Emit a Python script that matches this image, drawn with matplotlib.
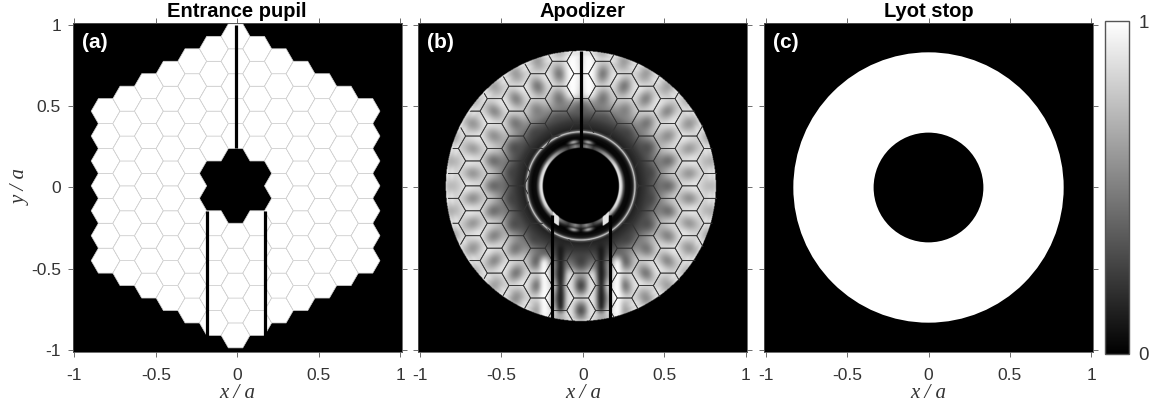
import matplotlib
matplotlib.use('Agg')
import matplotlib.pyplot as plt
import numpy as np
from matplotlib.patches import Circle, Polygon, PathPatch
from matplotlib.path import Path

W, H = 1151, 412
sans = ['Liberation Sans', 'DejaVu Sans']
serif = ['Liberation Serif', 'DejaVu Serif']
plt.rcParams['font.family'] = sans

titles = ['Entrance pupil', 'Apodizer', 'Lyot stop']
panel_tags = ['(a)', '(b)', '(c)']
tick_vals = [-1, -0.5, 0, 0.5, 1]
tick_labels = ['-1', '-0.5', '0', '0.5', '1']

# hexagon lattice
hex_size = 0.0885
hex_dy = 0.153
hex_dx = 0.133
shift_x, shift_y = -0.01, 0.01
n_rings = 6

# spiders
spider_x = [-0.188, -0.008, 0.168]
spider_a_y = [(-0.912, -0.143), (0.24, 1.0), (-0.912, -0.143)]
spider_b_y = [(-0.805, -0.17), (0.24, 0.84), (-0.805, -0.17)]

# apodizer: grey level in the middle of each hexagon, top to bottom, per column
# (column 0 is the middle one, the left half mirrors the right one)
col0 = [.75, .9, .85, .35, .15, 0, 0, 0, .2, .25, .25, .3, .4]
col1 = [.65, .45, .45, .3, .2, .1, .1, .2, .3, .4, .45, .6]
col2 = [.6, .45, .5, .25, .15, .15, .15, .25, .35, .4, .6]
col3 = [.6, .5, .45, .3, .25, .25, .3, .45, .45, .55]
col4 = [.62, .52, .55, .42, .4, .42, .5, .52, .62]
col5 = [.68, .58, .6, .58, .55, .58, .58, .68]
col6 = [.75, .62, .68, .72, .68, .62, .75]
hex_levels = [col0, col1, col2, col3, col4, col5, col6]

# apodizer: grey level between the hexagons against radius
rim_r = [.34, .4, .45, .5, .55, .6, .7, .78, .8, .815, .83]
rim_level = [.12, .22, .36, .54, .72, .82, .9, .82, .95, .75, 1.0]

# apodizer: ring round the central hole
ring_r = [.232, .238, .25, .262, .275, .3, .318, .328, .333, .338, .35]
ring_level = [0, .95, .85, .35, .05, .03, .12, .45, .95, .35, .15]
ring_angle = [0, 30, 55, 72, 82, 90]
ring_gain = [1, .95, .6, .25, .6, .3]

# apodizer: bright and dark vertical bands near the spiders (x, y0, y1, width, level)
band_x = [.05, .07, .125, .225]
band_y0 = [.52, -.83, -.80, -.83]
band_y1 = [.83, -.50, -.34, -.42]
band_w = [.04, .024, .024, .028]
band_level = [1.0, .9, .08, 1.0]

# Lyot stop
lyot_outer = 0.83
lyot_inner = 0.337

grid_x = np.linspace(-1.01, 1.01, 700)
X, Y = np.meshgrid(grid_x - shift_x, grid_x - shift_y)
R = np.hypot(X, Y)
AX = np.abs(X)

# nearest hexagon for every pixel, blobs stretched along the radius
best = np.full(X.shape, 9.0)
shaped = np.zeros(X.shape)
centre_lvl = np.zeros(X.shape)
for c, lv in enumerate(hex_levels):
    top = (len(lv) - 1) / 2 * hex_dy
    for k, v in enumerate(lv):
        cx, cy = c * hex_dx, top - k * hex_dy
        dx, dy = AX - cx, Y - cy
        d = np.hypot(dx, dy)
        rn = max(np.hypot(cx, cy), 1e-6)
        along = (dx * cx + dy * cy) / rn
        perp = (-dx * cy + dy * cx) / rn
        s = np.hypot(along / 1.35, perp)
        m = d < best
        best[m] = d[m]
        shaped[m] = s[m]
        centre_lvl[m] = v

edge = np.interp(R, rim_r, rim_level)
low = np.minimum(centre_lvl, edge)
t = np.clip(shaped / 0.07, 0, 1)
t = t * t * (3 - 2 * t)
apod = low + (edge - low) * t

for bx, y0, y1, bw, bl in zip(band_x, band_y0, band_y1, band_w, band_level):
    fade = np.clip((Y - y0) / 0.05, 0, 1) * np.clip((y1 - Y) / 0.05, 0, 1)
    w = np.exp(-((AX - bx) / bw) ** 2) * fade
    apod = apod * (1 - w) + bl * w

# soften with a small gaussian
freq = np.fft.fftfreq(700, d=grid_x[1] - grid_x[0])
FX, FY = np.meshgrid(freq, freq)
blur = np.exp(-2 * (np.pi * 0.010) ** 2 * (FX ** 2 + FY ** 2))
apod = np.real(np.fft.ifft2(np.fft.fft2(apod) * blur))
apod = np.clip(apod, 0, 1)

# ring: bright on the sides of the hole, dimmer on top and bottom
ring = np.interp(R, ring_r, ring_level)
ang = np.degrees(np.arctan2(np.abs(Y), AX))
gain = np.interp(ang, ring_angle, ring_gain)
inner = R < 0.29
ring[inner] = ring[inner] * gain[inner]
# soft lobes across the dark band, top and bottom
lobe = np.exp(-((R - 0.272) / 0.012) ** 2) * np.exp(-((AX - 0.045) / 0.03) ** 2)
ring = np.maximum(ring, 0.65 * lobe)
ring[(R > 0.232) & (R < 0.28) & (AX > 0.135) & (AX < 0.172) & (Y < 0)] = 0.9
apod = np.where(R < 0.35, ring, apod)
apod[R > 0.83] = 0
apod[R < 0.232] = 0


def hex_verts(cx, cy):
    a = np.deg2rad(np.arange(0, 360, 60))
    return np.c_[cx + hex_size * np.cos(a), cy + hex_size * np.sin(a)]


def lattice(skip_inner=True):
    pts = []
    for q in range(-n_rings, n_rings + 1):
        for r in range(-n_rings, n_rings + 1):
            if abs(q + r) > n_rings:
                continue
            if skip_inner and max(abs(q), abs(r), abs(q + r)) < 2:
                continue
            pts.append((q * hex_dx + shift_x, (r + q / 2) * hex_dy + shift_y))
    return pts


def annulus(r0, r1, cx, cy):
    a = Path.circle((cx, cy), r1)
    b = Path.circle((cx, cy), r0)
    return Path(np.r_[a.vertices, b.vertices[::-1]],
                np.r_[a.codes, b.codes])


fig = plt.figure(figsize=(W / 100, H / 100), dpi=100)
lefts = [72.7, 418.3, 764]
axes = []
for i, l in enumerate(lefts):
    ax = fig.add_axes([l / W, 1 - 352 / H, 329 / W, 329 / H])
    ax.set_facecolor('k')
    ax.set_xlim(-1.01, 1.01)
    ax.set_ylim(-1.01, 1.01)
    ax.set_xticks(tick_vals)
    ax.set_xticklabels(tick_labels)
    ax.set_yticks(tick_vals)
    ax.set_yticklabels(tick_labels if i == 0 else [])
    ax.tick_params(direction='out', length=3.5, width=0.6, color='#555555',
                   labelcolor='#333333', labelsize=12.5, top=True, right=True, pad=5)
    ax.tick_params(axis='x', pad=8)
    for s in ax.spines.values():
        s.set_color('#555555')
        s.set_linewidth(0.6)
    ax.set_title(titles[i], fontsize=14.5, fontweight='bold', pad=4.5, color='k')
    ax.set_xlabel('x / a', family=serif, style='italic', fontsize=15, color='#333333', labelpad=1)
    ax.text(-0.955, 0.89, panel_tags[i], color='w', fontweight='bold', fontsize=15,
            ha='left', va='center')
    axes.append(ax)

axes[0].set_ylabel('y / a', family=serif, style='italic', fontsize=15, color='#333333', labelpad=0)

# (a) entrance pupil
ax = axes[0]
for cx, cy in lattice():
    ax.add_patch(Polygon(hex_verts(cx, cy), closed=True, facecolor='w',
                         edgecolor='#d2d2d2', linewidth=0.5))
for x, (y0, y1) in zip(spider_x, spider_a_y):
    ax.plot([x, x], [y0, y1], color='k', lw=2.3, solid_capstyle='butt')

# (b) apodizer
ax = axes[1]
im = ax.imshow(apod, extent=[-1.01, 1.01, -1.01, 1.01], origin='lower', cmap='gray',
               vmin=0, vmax=1, interpolation='bilinear', aspect='auto')
clip = PathPatch(annulus(0.335, 0.83, shift_x + 0.008, shift_y - 0.002),
                 transform=ax.transData, facecolor='none', edgecolor='none')
ax.add_patch(clip)
for cx, cy in lattice(skip_inner=False):
    p = Polygon(hex_verts(cx, cy), closed=True, fill=False,
                edgecolor='#333333', linewidth=0.55)
    ax.add_patch(p)
    p.set_clip_path(clip)
for x, (y0, y1) in zip(spider_x, spider_b_y):
    ax.plot([x, x], [y0, y1], color='k', lw=2.3, solid_capstyle='butt')

# (c) Lyot stop
ax = axes[2]
ax.add_patch(Circle((0, 0), lyot_outer, facecolor='w', edgecolor='none'))
ax.add_patch(Circle((0, 0), lyot_inner, facecolor='k', edgecolor='none'))

# colorbar
cax = fig.add_axes([1105 / W, 1 - 354 / H, 24 / W, 333 / H])
cb = fig.colorbar(im, cax=cax, ticks=[0, 1])
cb.ax.set_yticklabels(['0', '1'])
cb.ax.tick_params(length=0, labelsize=13.5, labelcolor='#333333', pad=7)
cb.outline.set_edgecolor('#555555')
cb.outline.set_linewidth(1.0)

fig.savefig('out.png', dpi=100)
